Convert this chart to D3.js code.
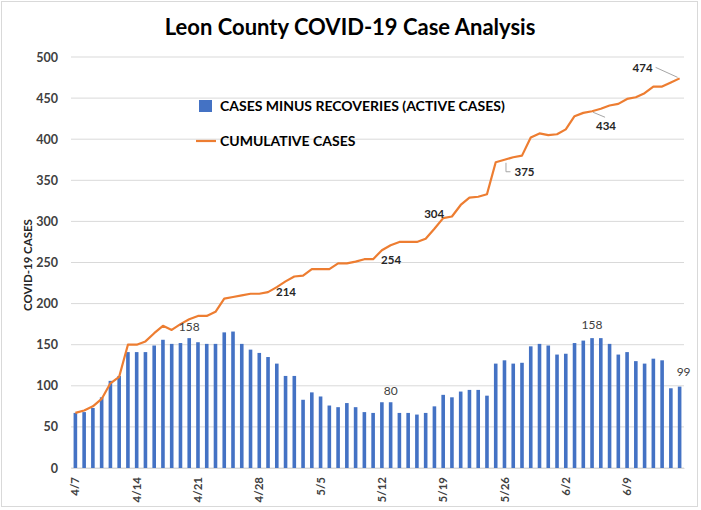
<!DOCTYPE html>
<html><head><meta charset="utf-8">
<script src="https://cdn.jsdelivr.net/npm/d3@7"></script>
<style>body{margin:0;background:#fff}svg{display:block}text{font-family:Lato,"Open Sans",sans-serif}</style>
</head><body><svg id="c" width="701" height="510"></svg>
<script>
const dates = ["4/7","4/8","4/9","4/10","4/11","4/12","4/13","4/14","4/15","4/16","4/17","4/18","4/19","4/20","4/21","4/22","4/23","4/24","4/25","4/26","4/27","4/28","4/29","4/30",
"5/1","5/2","5/3","5/4","5/5","5/6","5/7","5/8","5/9","5/10","5/11","5/12","5/13","5/14","5/15","5/16","5/17","5/18","5/19","5/20","5/21","5/22","5/23","5/24","5/25","5/26","5/27","5/28","5/29","5/30","5/31",
"6/1","6/2","6/3","6/4","6/5","6/6","6/7","6/8","6/9","6/10","6/11","6/12","6/13","6/14","6/15"];
const activeCases = [67,68,73,86,106,112,141,141,141,149,156,151,152,158,153,151,151,165,
166,151,144,140,135,127,112,112,83,92,87,76,74,79,74,68,67,80,
80,67,67,65,67,75,89,86,93,95,95,88,127,131,127,128,148,151,
149,138,139,152,155,158,158,151,138,141,130,127,133,131,97,99];
const cumulativeCases = [67,70,75,84,103,111,150,150,154,164,173,168,175,181,185,185,190,206,
208,210,212,212,214,220,227,233,234,242,242,242,249,249,251,254,254,265,
271,275,275,275,279,291,304,306,320,329,330,333,372,375,378,380,402,407,
405,406,412,428,432,434,437,441,443,449,451,456,464,464,469,474];
const xTickLabels = ["4/7","4/14","4/21","4/28","5/5","5/12","5/19","5/26","6/2","6/9"];
const yTicks = [0,50,100,150,200,250,300,350,400,450,500];
const barLabelDates = ["4/20","5/13","6/5","6/15"];
const lineLabelDates = ["4/29","5/11","5/19","5/26","6/5","6/15"];

const svg = d3.select("#c");
const L=71, R=684, T=57, B=468;
const x = d3.scaleBand().domain(dates).range([L,R]).padding(0);
const y = d3.scaleLinear().domain([0,500]).range([B,T]);
const bw = x.bandwidth();
const cx = d => x(d) + bw/2;
const barW = 3.6;
const idx = d => dates.indexOf(d);

svg.append("rect").attr("x",1.5).attr("y",1.5).attr("width",696).attr("height",505)
  .attr("fill","#fff").attr("stroke","#d9d9d9");

// gridlines
svg.append("g").selectAll("line").data(yTicks).join("line")
  .attr("x1",L).attr("x2",R).attr("y1",d=>y(d)).attr("y2",d=>y(d))
  .attr("stroke","#d9d9d9").attr("stroke-width",1);

// y axis
const ya = svg.append("g").attr("transform",`translate(${L},0)`)
  .call(d3.axisLeft(y).tickValues(yTicks).tickSize(0).tickPadding(13));
ya.select(".domain").remove();
ya.selectAll("text").attr("font-size",12.5).attr("font-weight","bold").attr("fill","#404040");

// x axis
const xa = svg.append("g").attr("transform",`translate(0,${B})`)
  .call(d3.axisBottom(x).tickValues(xTickLabels).tickSize(0));
xa.select(".domain").attr("stroke","#d9d9d9");
xa.selectAll("text").attr("font-size",11.5).attr("font-weight","bold").attr("fill","#404040")
  .attr("text-anchor","end").attr("transform","rotate(-90)")
  .attr("x",-9).attr("y",0).attr("dy","0.35em");

// bars
svg.append("g").selectAll("rect").data(dates).join("rect")
  .attr("x",d=>cx(d)-barW/2).attr("width",barW)
  .attr("y",(d,i)=>y(activeCases[i])).attr("height",(d,i)=>B-y(activeCases[i]))
  .attr("fill","#4472C4");

// line
const line = d3.line().x((v,i)=>cx(dates[i])).y(v=>y(v));
svg.append("path").datum(cumulativeCases).attr("d",line)
  .attr("fill","none").attr("stroke","#ED7D31").attr("stroke-width",2.2).attr("stroke-linejoin","round");

// bar labels
const barOff = [[0,-7],[0,-7],[0,-9],[4,-11]];
svg.append("g").selectAll("text").data(barLabelDates).join("text")
  .attr("x",(d,i)=>cx(d)+barOff[i][0]).attr("y",(d,i)=>y(activeCases[idx(d)])+barOff[i][1])
  .attr("text-anchor","middle").attr("font-size",12).attr("fill","#404040")
  .text(d=>activeCases[idx(d)]);

// line labels
const lineOff = [[18,4],[18,5],[-9,0],[20,16],[14,19],[-37,-6]];
svg.append("g").selectAll("text").data(lineLabelDates).join("text")
  .attr("x",(d,i)=>cx(d)+lineOff[i][0]).attr("y",(d,i)=>y(cumulativeCases[idx(d)])+lineOff[i][1])
  .attr("text-anchor","middle").attr("font-size",11.5).attr("font-weight","bold").attr("fill","#262626")
  .text(d=>cumulativeCases[idx(d)]);

// leader lines
const lp = d => [cx(d), y(cumulativeCases[idx(d)])];
const g = svg.append("g").attr("fill","none").attr("stroke","#a6a6a6").attr("stroke-width",1);
{ const [px,py]=lp("5/26"); g.append("path").attr("d",`M${px+1.5},${py+3}V${py+12}H${px+6}`); }
{ const [px,py]=lp("6/5"); g.append("path").attr("d",`M${px+1},${py+1}L${px+13},${py+6}`); }
{ const [px,py]=lp("6/15"); g.append("path").attr("d",`M${px-2},${py-1}L${px-24},${py-11}`); }

// title
svg.append("text").attr("x",350).attr("y",35).attr("text-anchor","middle")
  .attr("font-size",22).attr("font-weight","bold").attr("fill","#000")
  .text("Leon County COVID-19 Case Analysis");

// legend
svg.append("rect").attr("x",199).attr("y",100).attr("width",13).attr("height",12).attr("fill","#4472C4");
svg.append("text").attr("x",220).attr("y",111).attr("font-size",14).attr("font-weight","bold").attr("fill","#000")
  .text("CASES MINUS RECOVERIES (ACTIVE CASES)");
svg.append("line").attr("x1",196).attr("x2",216).attr("y1",141).attr("y2",141).attr("stroke","#ED7D31").attr("stroke-width",2.2);
svg.append("text").attr("x",220).attr("y",146).attr("font-size",14).attr("font-weight","bold").attr("fill","#000")
  .text("CUMULATIVE CASES");

// y title
svg.append("text").attr("transform","translate(32,265) rotate(-90)").attr("text-anchor","middle")
  .attr("font-size",11.5).attr("font-weight","bold").attr("fill","#262626").text("COVID-19 CASES");
</script></body></html>
